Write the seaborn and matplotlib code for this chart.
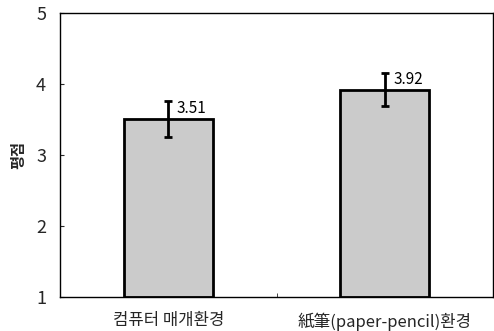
import matplotlib
matplotlib.use("Agg")
import matplotlib.pyplot as plt
import seaborn as sns
import pandas as pd

categories = ["컴퓨터 매개환경", "紙筆(paper-pencil)환경"]
means = [3.51, 3.92]
errors = [0.25, 0.23]
value_labels = ["3.51", "3.92"]
y_ticks = [1, 2, 3, 4, 5]

sns.set_style("white")
plt.rcParams['font.family'] = ['Noto Sans CJK KR', 'DejaVu Sans']

df = pd.DataFrame({"cat": categories, "mean": means})

fig = plt.figure(figsize=(4.94, 3.31), dpi=100)
ax = fig.add_axes([60/494, 34/331, 433/494, 284/331])

sns.barplot(data=df, x="cat", y="mean", ax=ax, color="#cbcbcb",
            edgecolor="black", linewidth=2, width=0.41, errorbar=None,
            saturation=1)
# bars start at 1 (axis floor)
for p in ax.patches:
    p.set_y(1)
    p.set_height(p.get_height() - 1)

ax.errorbar(range(len(means)), means, yerr=errors, fmt="none",
            ecolor="black", elinewidth=2, capsize=3, capthick=2)

for i, (m, e, lab) in enumerate(zip(means, errors, value_labels)):
    ax.text(i + 0.04, m + 0.15, lab, ha="left", va="center", fontsize=11,
            color="black")

ax.set_ylim(1, 5)
ax.set_xlim(-0.5, 1.5)
ax.set_yticks(y_ticks)
ax.set_yticklabels([str(t) for t in y_ticks], fontsize=13)
ax.set_xticks(range(len(categories)))
ax.set_xticklabels(categories, fontsize=12)
ax.tick_params(axis="x", length=0, pad=11)
ax.tick_params(axis="y", direction="in", length=3, pad=10, left=True)
ax.set_xticks([0.5], minor=True)
ax.tick_params(axis="x", which="minor", direction="in", length=3, bottom=True)
ax.set_xlabel("")
ax.set_ylabel("평점", fontsize=11, labelpad=7, fontweight="bold")
for s in ax.spines.values():
    s.set_visible(True)
    s.set_color("black")
    s.set_linewidth(1)

fig.savefig("out.png", dpi=100)
